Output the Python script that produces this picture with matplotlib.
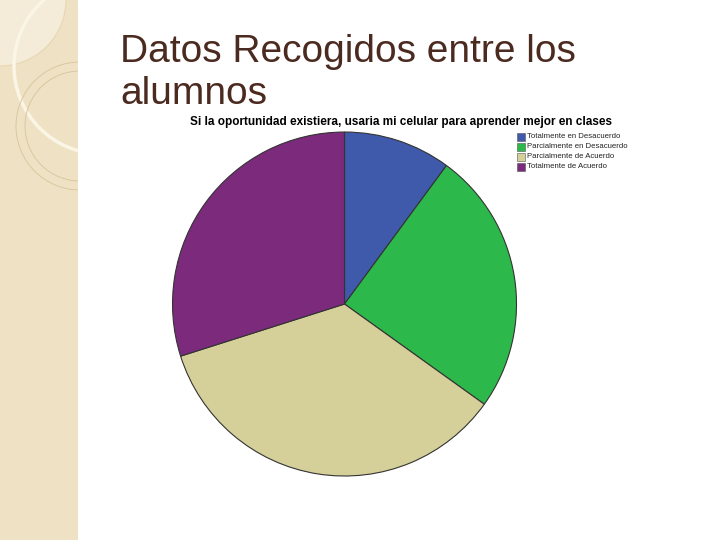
import numpy as np
import matplotlib.pyplot as plt
from matplotlib.patches import Rectangle, Circle

labels = ['Totalmente en Desacuerdo', 'Parcialmente en Desacuerdo',
          'Parcialmente de Acuerdo', 'Totalmente de Acuerdo']
values = [10.1, 24.8, 35.2, 29.9]
colors = ['#3F5AAA', '#2DB84B', '#D5CF99', '#7B2A7C']

plt.rcParams['font.family'] = ['Liberation Sans', 'DejaVu Sans']

fig = plt.figure(figsize=(7.2, 5.4), dpi=100)
fig.patch.set_facecolor('white')

# decorative left strip (pixel coordinates)
deco = fig.add_axes([0, 0, 1, 1])
deco.set_xlim(0, 720)
deco.set_ylim(540, 0)
deco.axis('off')
strip = Rectangle((0, 0), 78, 540, facecolor='#EFE2C4', edgecolor='none')
deco.add_patch(strip)
shapes = [
    Circle((0, 0), 66, facecolor='#F4EBD8', edgecolor='#E6D6B2', lw=0.8),
    Circle((102, 66), 88, facecolor='none', edgecolor='#FBF5E6', lw=2.5),
    Circle((80, 126), 64, facecolor='none', edgecolor='#D9C7A0', lw=0.7),
    Circle((80, 126), 55, facecolor='none', edgecolor='#D9C7A0', lw=0.7),
]
for s in shapes:
    deco.add_patch(s)
    s.set_clip_path(strip)

fig.text(120, 540 - 62, 'Datos Recogidos entre los', transform=None,
         fontsize=28, color='#4B2A20')
fig.text(120, 540 - 104, 'alumnos', transform=None,
         fontsize=28, color='#4B2A20')

ax = fig.add_axes([0.239, 0.1185, 0.479, 0.637])
ax.pie(values, colors=colors, startangle=90, counterclock=False,
       wedgeprops=dict(edgecolor='#333333', linewidth=0.8))
ax.set_xlim(-1.0, 1.0)
ax.set_ylim(-1.0, 1.0)

fig.text(401 / 720, 1 - 122 / 540,
         'Si la oportunidad existiera, usaria mi celular para aprender mejor en clases',
         ha='center', va='center', fontsize=8.5, fontweight='bold', color='black')

lax = fig.add_axes([0, 0, 1, 1])
lax.set_xlim(0, 720)
lax.set_ylim(540, 0)
lax.axis('off')
lax.patch.set_alpha(0)
for i, (lab, col) in enumerate(zip(labels, colors)):
    y = 137 + i * 10
    lax.add_patch(Rectangle((517, y - 4), 8, 8, facecolor=col,
                            edgecolor='#555555', lw=0.4))
    lax.text(527, y, lab, fontsize=5.6, va='center', ha='left', color='#222222')

fig.savefig('out.png', dpi=100)
